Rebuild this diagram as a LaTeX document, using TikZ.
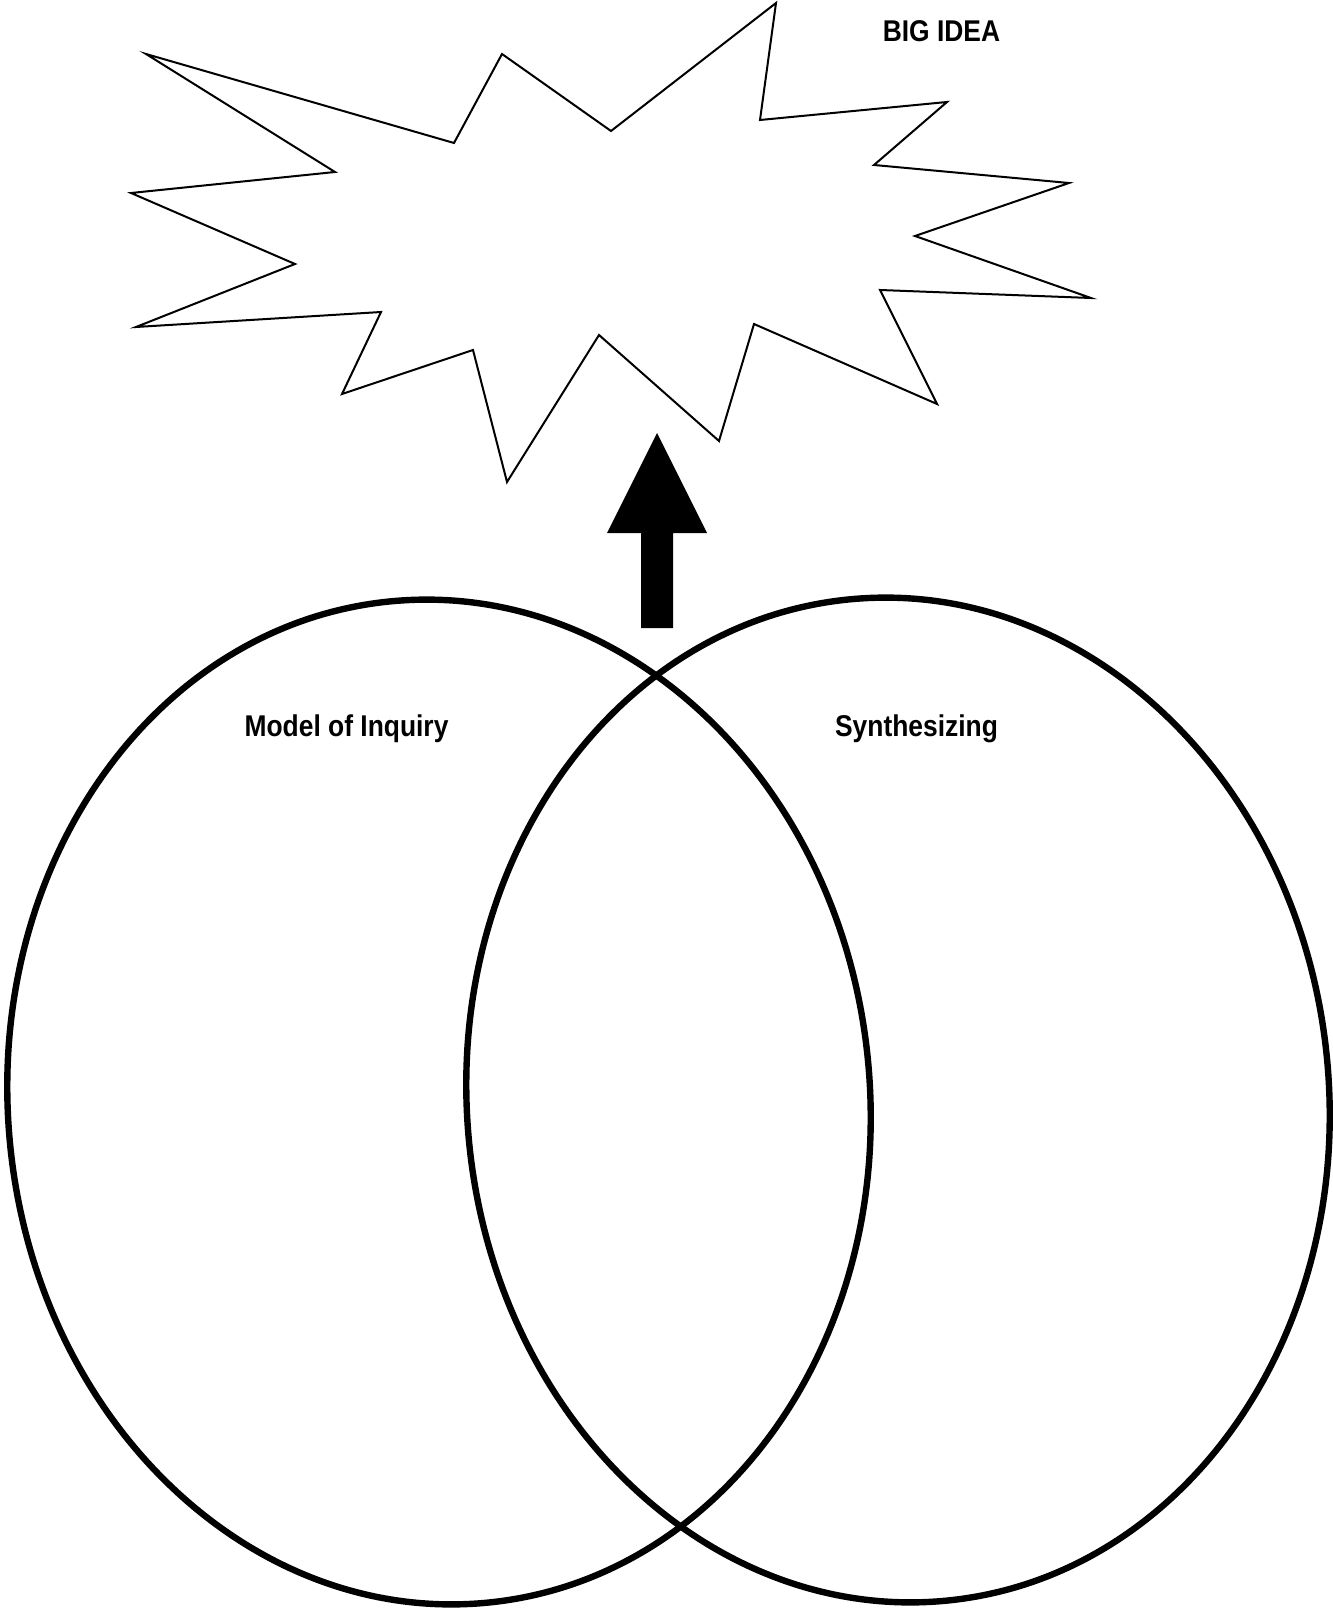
\documentclass[tikz,border=0pt]{standalone}
\usepackage{fontspec}
\setmainfont{Liberation Sans}[FakeStretch=0.88]
\begin{document}
\begin{tikzpicture}[x=0.5pt,y=-0.5pt,
  venn/.style={line width=3.2pt},
  burst/.style={line width=1pt,line join=miter},
  label/.style={font=\bfseries\fontsize{15}{18}\selectfont,anchor=base,inner sep=0pt}]
\useasboundingbox (0,0) rectangle (1332,1610);
% starburst
\draw[burst] (146,54) -- (454,143) -- (502,54) -- (611,131) -- (776,3) -- (760,120)
  -- (947,102) -- (874,165) -- (1069,183) -- (915,236) -- (1091,298) -- (880,290)
  -- (937,404) -- (754,324) -- (719,441) -- (599,335) -- (507,482) -- (473,350)
  -- (342,394) -- (381,312) -- (136,327) -- (295,264) -- (131,193) -- (335,172) -- cycle;
% arrow
\fill (657,433) -- (707,533) -- (673,533) -- (673,628) -- (641,628) -- (641,533) -- (607,533) -- cycle;
% ellipses
\draw[venn,rotate around={5.5:(439,1102)}] (439,1102) ellipse [x radius=431, y radius=503];
\draw[venn,rotate around={5.5:(898,1100)}] (898,1100) ellipse [x radius=431, y radius=503];
% labels
\node[label] (big) at (941.5,41.7) {BIG IDEA};
\node[label] (model) at (346.5,736.7) {Model of Inquiry};
\node[label] (synth) at (916.5,736.7) {Synthesizing};
\end{tikzpicture}
\end{document}
